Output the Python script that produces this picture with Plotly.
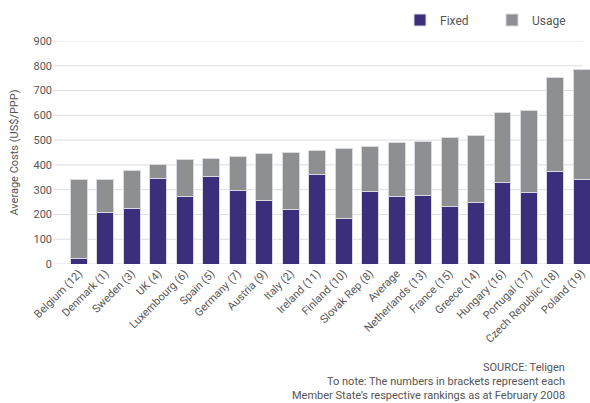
import plotly.graph_objects as go

# Average residential costs by Member State (ranking in brackets)
countries = [
    "Belgium (12)", "Denmark (1)", "Sweden (3)", "UK (4)", "Luxembourg (6)",
    "Spain (5)", "Germany (7)", "Austria (9)", "Italy (2)", "Ireland (11)",
    "Finland (10)", "Slovak Rep (8)", "Average", "Netherlands (13)", "France (15)",
    "Greece (14)", "Hungary (16)", "Portugal (17)", "Czech Republic (18)", "Poland (19)",
]
fixed = [24, 207, 226, 347, 274, 355, 296, 255, 220, 360,
         183, 293, 271, 277, 234, 250, 328, 288, 375, 342]
totals = [340, 341, 376, 400, 422, 427, 435, 446, 452, 460,
          466, 473, 492, 495, 511, 517, 612, 618, 753, 785]
usage = [t - f for t, f in zip(totals, fixed)]

y_ticks = [0, 100, 200, 300, 400, 500, 600, 700, 800, 900]

FIXED_COLOR = "#3b2f7b"
USAGE_COLOR = "#8e8f91"
EDGE_COLOR = "#d9d9e2"
TEXT_COLOR = "#555555"
GRID_COLOR = "#dddddd"
FONT = "Roboto"

fig = go.Figure()
fig.add_trace(go.Bar(
    name="Fixed", x=countries, y=fixed,
    marker=dict(color=FIXED_COLOR, line=dict(color=EDGE_COLOR, width=1)),
))
fig.add_trace(go.Bar(
    name="Usage", x=countries, y=usage,
    marker=dict(color=USAGE_COLOR, line=dict(color=EDGE_COLOR, width=1)),
))

# horizontal gridlines, stopping a little short of the right edge
for v in y_ticks:
    fig.add_shape(type="line", xref="paper", yref="y", x0=0, x1=0.987,
                  y0=v, y1=v, line=dict(color=GRID_COLOR, width=1), layer="below")

W, H = 590, 403
L, R, T, B = 53, 0, 41, 139
pw, ph = W - L - R, H - T - B


def px_x(p):
    return (p - L) / pw


def px_y(p):
    return (H - B - p) / ph


notes = [
    "SOURCE: Teligen",
    "To note: The numbers in brackets represent each",
    "Member State\u2019s respective rankings as at February 2008",
]
for i, line in enumerate(notes):
    fig.add_annotation(text=line, xref="paper", yref="paper",
                       x=px_x(567), y=px_y(367 + 14 * i),
                       xanchor="right", yanchor="middle", showarrow=False,
                       font=dict(family=FONT, size=11, color=TEXT_COLOR))

fig.update_layout(
    width=W, height=H,
    margin=dict(l=L, r=R, t=T, b=B, autoexpand=False),
    barmode="stack", bargap=0.36,
    plot_bgcolor="white", paper_bgcolor="white",
    font=dict(family=FONT, size=11, color=TEXT_COLOR),
    legend=dict(orientation="h", x=px_x(400), xanchor="left",
                y=px_y(20), yanchor="middle",
                font=dict(family=FONT, size=12, color=TEXT_COLOR),
                traceorder="normal", itemwidth=30,
                entrywidth=47, entrywidthmode="pixels"),
    xaxis=dict(type="category", range=[-0.982, 19.305], tickangle=-45,
               showgrid=False, showline=False, ticks="", zeroline=False,
               tickfont=dict(family=FONT, size=11, color=TEXT_COLOR)),
    yaxis=dict(range=[0, 900], tickvals=y_ticks, showgrid=False, zeroline=False,
               showline=False, ticks="",
               title=dict(text="Average Costs (US$/PPP)", standoff=12,
                          font=dict(family=FONT, size=11, color=TEXT_COLOR)),
               tickfont=dict(family=FONT, size=11, color=TEXT_COLOR)),
)

fig.write_html("out.html")
